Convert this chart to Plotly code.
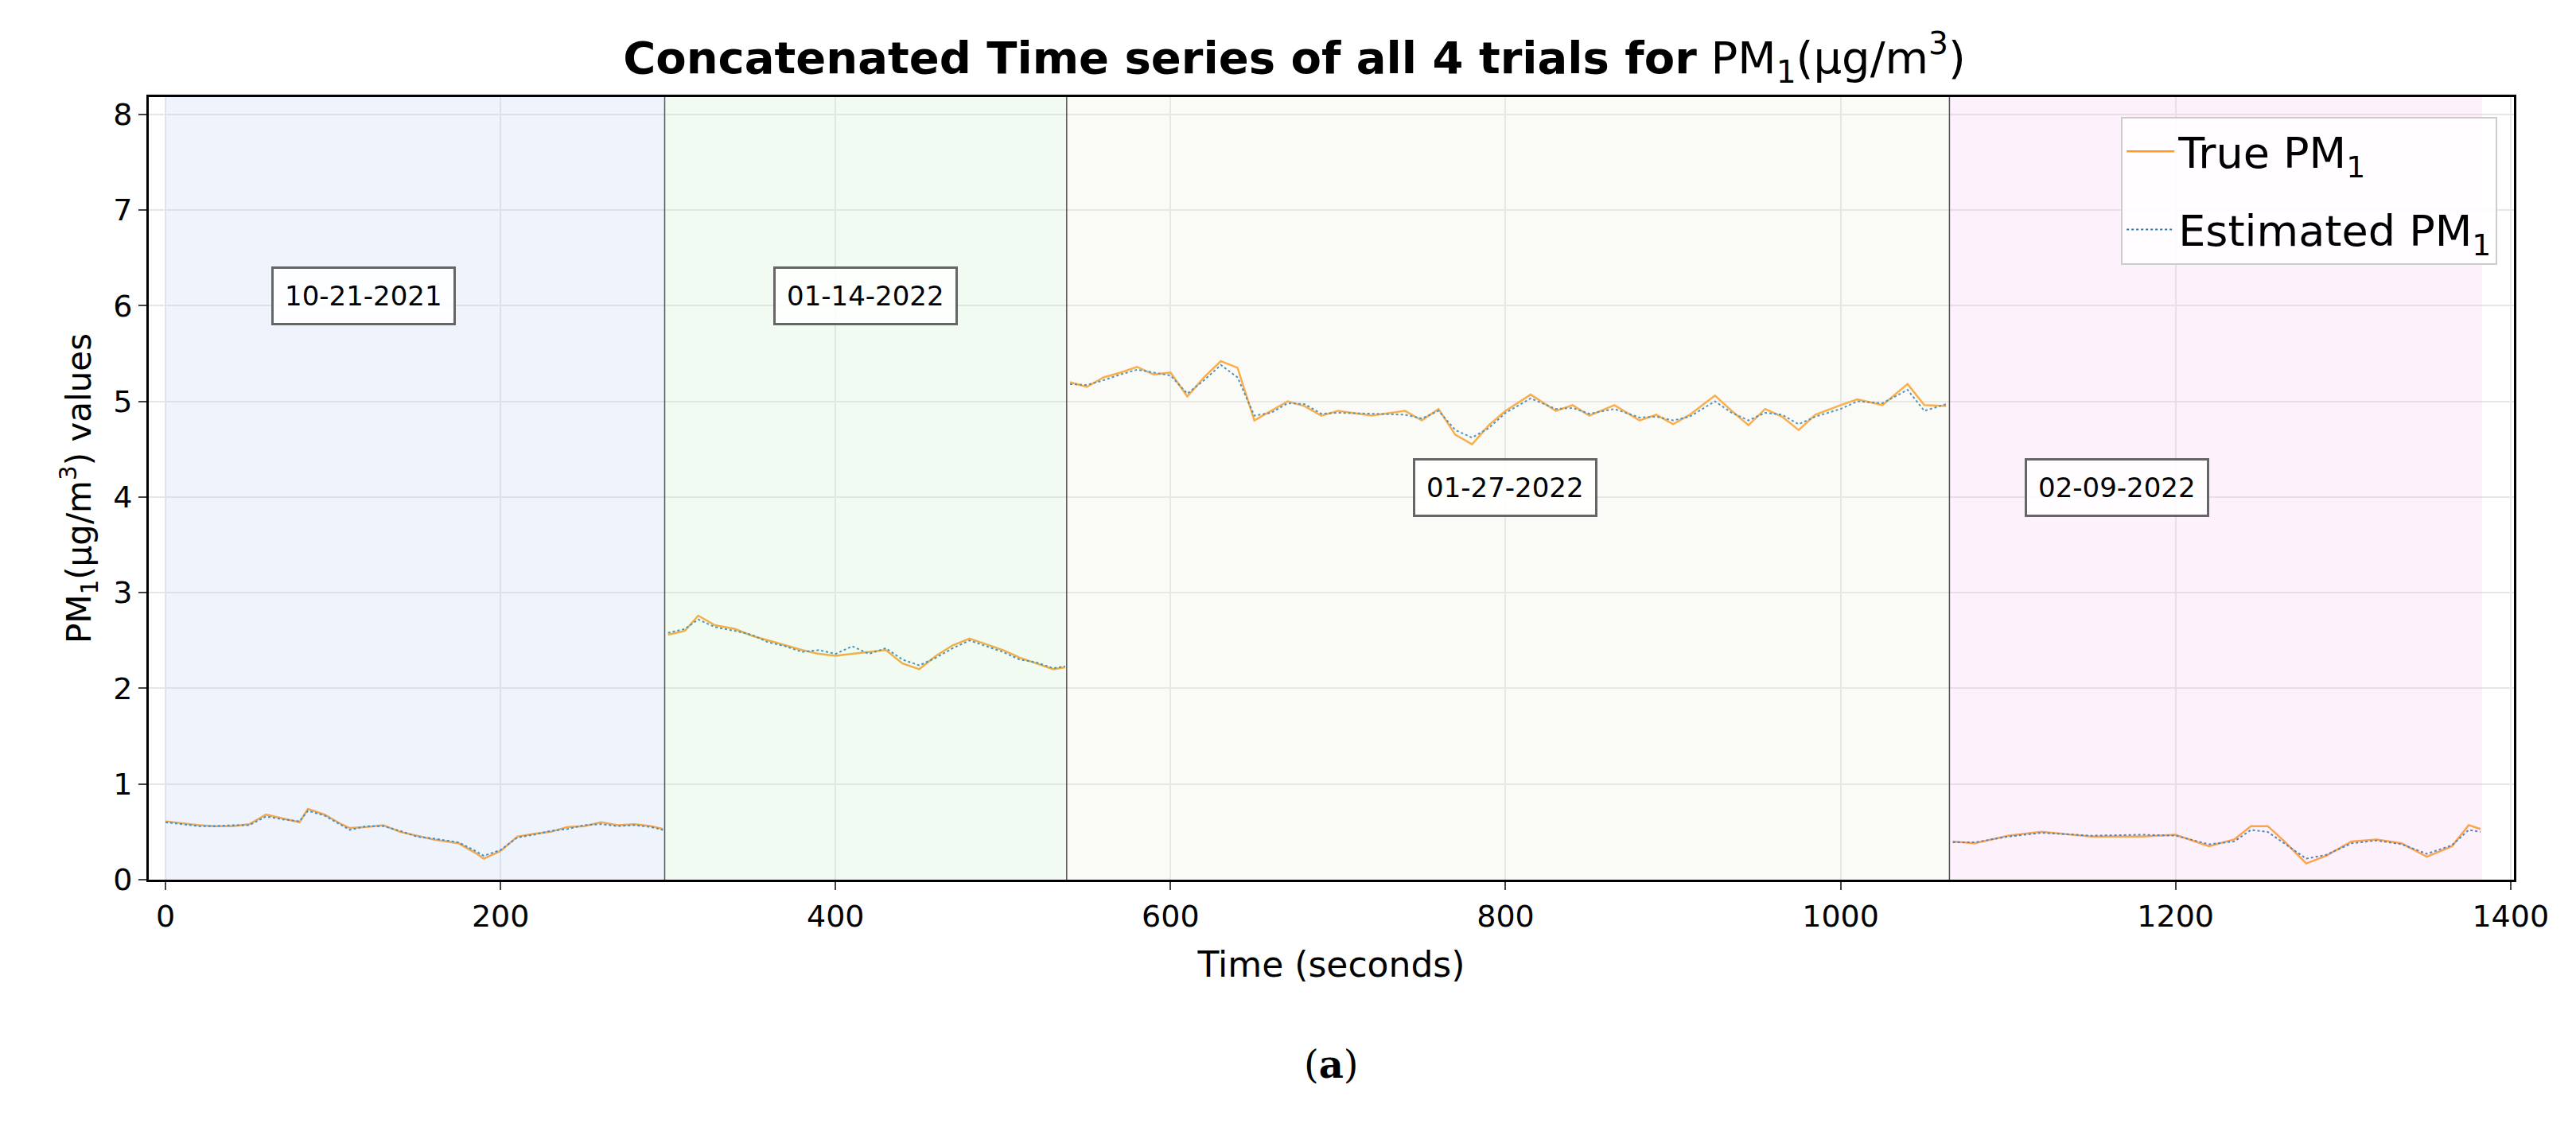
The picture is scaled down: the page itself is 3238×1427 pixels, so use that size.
import plotly.graph_objects as go

# Segment data (seconds, PM1 values)
t1 = [0, 10, 20, 30, 40, 50, 60, 70, 80, 85, 95, 105, 110, 120, 130, 140, 150, 160, 175, 185, 190, 200, 210, 220, 230, 240, 250, 260, 270, 280, 290, 297]
true1 = [0.61, 0.59, 0.57, 0.56, 0.56, 0.58, 0.68, 0.64, 0.60, 0.74, 0.68, 0.58, 0.54, 0.55, 0.57, 0.50, 0.46, 0.42, 0.38, 0.28, 0.22, 0.30, 0.45, 0.48, 0.50, 0.55, 0.56, 0.60, 0.57, 0.58, 0.56, 0.53]
est1 = [0.60, 0.58, 0.56, 0.56, 0.57, 0.57, 0.66, 0.63, 0.61, 0.72, 0.67, 0.57, 0.52, 0.56, 0.56, 0.51, 0.45, 0.43, 0.39, 0.30, 0.25, 0.31, 0.44, 0.47, 0.51, 0.53, 0.57, 0.58, 0.56, 0.57, 0.55, 0.52]

t2 = [300, 310, 318, 328, 340, 350, 360, 370, 380, 390, 400, 410, 420, 430, 440, 450, 460, 470, 480, 490, 500, 510, 520, 530, 537]
true2 = [2.56, 2.60, 2.76, 2.66, 2.62, 2.55, 2.50, 2.45, 2.40, 2.36, 2.34, 2.36, 2.38, 2.40, 2.26, 2.20, 2.34, 2.45, 2.52, 2.46, 2.40, 2.32, 2.26, 2.20, 2.22]
est2 = [2.58, 2.62, 2.72, 2.64, 2.60, 2.56, 2.48, 2.44, 2.38, 2.40, 2.36, 2.44, 2.36, 2.42, 2.30, 2.24, 2.32, 2.42, 2.50, 2.44, 2.38, 2.30, 2.27, 2.21, 2.23]

t3 = [540, 550, 560, 570, 580, 590, 600, 610, 620, 630, 640, 650, 660, 670, 680, 690, 700, 720, 740, 750, 760, 770, 780, 790, 800, 815, 830, 840, 850, 865, 880, 890, 900, 910, 925, 935, 945, 955, 965, 975, 985, 1000, 1010, 1025, 1040, 1050, 1063]
true3 = [5.20, 5.15, 5.25, 5.30, 5.36, 5.28, 5.30, 5.05, 5.25, 5.42, 5.35, 4.80, 4.90, 5.00, 4.95, 4.85, 4.90, 4.85, 4.90, 4.80, 4.92, 4.65, 4.55, 4.75, 4.90, 5.07, 4.90, 4.96, 4.85, 4.96, 4.80, 4.86, 4.76, 4.86, 5.06, 4.90, 4.75, 4.92, 4.84, 4.70, 4.86, 4.96, 5.02, 4.96, 5.18, 4.96, 4.95]
est3 = [5.18, 5.17, 5.22, 5.28, 5.33, 5.30, 5.27, 5.08, 5.22, 5.38, 5.25, 4.85, 4.88, 4.98, 4.97, 4.87, 4.88, 4.87, 4.86, 4.82, 4.90, 4.70, 4.62, 4.72, 4.88, 5.03, 4.92, 4.93, 4.87, 4.92, 4.83, 4.84, 4.80, 4.84, 5.00, 4.88, 4.80, 4.88, 4.86, 4.76, 4.84, 4.92, 5.00, 4.98, 5.12, 4.90, 4.97]

t4 = [1067, 1080, 1100, 1120, 1150, 1180, 1200, 1220, 1235, 1245, 1255, 1265, 1278, 1290, 1305, 1320, 1335, 1350, 1365, 1375, 1382]
true4 = [0.40, 0.38, 0.46, 0.50, 0.45, 0.45, 0.47, 0.35, 0.42, 0.56, 0.56, 0.40, 0.17, 0.25, 0.40, 0.42, 0.38, 0.24, 0.35, 0.57, 0.53]
est4 = [0.39, 0.39, 0.45, 0.49, 0.46, 0.47, 0.46, 0.37, 0.40, 0.52, 0.50, 0.38, 0.22, 0.26, 0.38, 0.41, 0.37, 0.27, 0.36, 0.52, 0.50]

segments = [(0, 298), (298, 538), (538, 1065), (1065, 1383)]
seg_colors = ["rgba(190,210,245,0.25)", "rgba(200,240,200,0.25)", "rgba(235,235,220,0.25)", "rgba(245,190,240,0.22)"]
labels = ["10-21-2021", "01-14-2022", "01-27-2022", "02-09-2022"]
label_x = [118, 418, 800, 1165]
label_y = [6.1, 6.1, 4.1, 4.1]

def join(*parts):
    out = []
    for i, p in enumerate(parts):
        if i:
            out.append(None)
        out.extend(p)
    return out

T = join(t1, t2, t3, t4)
TRUE = join(true1, true2, true3, true4)
EST = join(est1, est2, est3, est4)

fig = go.Figure()
fig.add_trace(go.Scatter(x=T, y=TRUE, mode="lines", name="True PM<sub>1</sub>", legendgroup="a",
                         line=dict(color="#ff9a1f", width=2.5), connectgaps=False))
fig.add_trace(go.Scatter(x=T, y=EST, mode="lines", name="Estimated PM<sub>1</sub>", legendgroup="b",
                         line=dict(color="#1f77b4", width=2, dash="dot"), connectgaps=False))

shapes = []
for (a, b), c in zip(segments, seg_colors):
    shapes.append(dict(type="rect", xref="x", yref="y", x0=a, x1=b, y0=0, y1=8.18,
                       fillcolor=c, line=dict(width=0), layer="above"))
for a in [298, 538, 1065]:
    shapes.append(dict(type="line", xref="x", yref="y", x0=a, x1=a, y0=0, y1=8.18,
                       line=dict(color="#555555", width=1.5), layer="above"))

annotations = []
for lx, ly, txt in zip(label_x, label_y, labels):
    annotations.append(dict(x=lx, y=ly, xref="x", yref="y", text=txt, showarrow=False,
                            font=dict(family="DejaVu Sans", size=34, color="black"),
                            bgcolor="rgba(255,255,255,0.85)", bordercolor="#666666",
                            borderwidth=3, borderpad=14))
annotations.append(dict(x=0.5, y=-0.236, xref="paper", yref="paper", text="(<b>a</b>)",
                        showarrow=False, yanchor="middle",
                        font=dict(family="DejaVu Serif", size=48, color="black")))

fig.update_layout(
    width=3238, height=1427,
    paper_bgcolor="white", plot_bgcolor="white",
    margin=dict(l=179, r=86, t=114, b=329),
    title=dict(text="<b>Concatenated Time series of all 4 trials for</b> PM<sub>1</sub>(μg/m<sup>3</sup>)",
               x=0.5, xanchor="center", y=0.955, yanchor="middle",
               font=dict(family="DejaVu Sans", size=56, color="black")),
    font=dict(family="DejaVu Sans", size=38, color="black"),
    shapes=shapes, annotations=annotations,
    legend=dict(x=0.993, y=0.975, xanchor="right", yanchor="top",
                bgcolor="rgba(255,255,255,0.85)", bordercolor="#cccccc", borderwidth=2,
                font=dict(family="DejaVu Sans", size=54), tracegroupgap=25,
                itemwidth=60),
    xaxis=dict(range=[-10, 1402], tickvals=[0, 200, 400, 600, 800, 1000, 1200, 1400],
               title=dict(text="Time (seconds)", font=dict(size=44), standoff=25),
               showgrid=True, gridcolor="#e6e6e6", gridwidth=2, zeroline=False,
               showline=True, linecolor="black", linewidth=3, mirror=True,
               ticks="outside", ticklen=10, tickwidth=2),
    yaxis=dict(range=[0, 8.18], tickvals=list(range(0, 9)),
               title=dict(text="PM<sub>1</sub>(μg/m<sup>3</sup>) values", font=dict(size=42), standoff=15),
               showgrid=True, gridcolor="#e6e6e6", gridwidth=2, zeroline=False,
               showline=True, linecolor="black", linewidth=3, mirror=True,
               ticks="outside", ticklen=10, tickwidth=2),
)

fig.write_html("out.html")
